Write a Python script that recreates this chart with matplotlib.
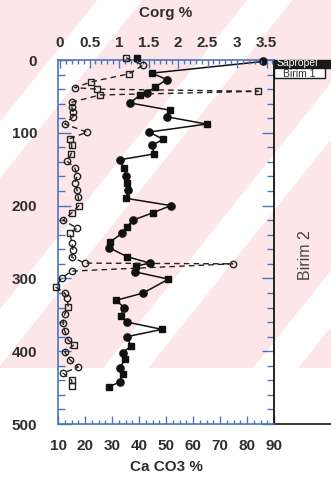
import numpy as np
import matplotlib
matplotlib.use("Agg")
import matplotlib.pyplot as plt
from matplotlib.patches import Polygon, Rectangle
from matplotlib.ticker import MultipleLocator

plt.rcParams['font.family'] = ['Liberation Sans', 'DejaVu Sans']

# ---------------- data ----------------
# CaCO3 % (filled markers, bottom axis) vs depth
caco3_depth = [2, 18, 27, 37, 45, 48, 59, 69, 78, 88, 99, 109, 117, 129, 137, 149, 159,
               169, 179, 190, 200, 210, 220, 229, 238, 250, 258, 270, 279, 283, 291, 301,
               320, 330, 340, 351, 360, 370, 380, 393, 402, 411, 423, 431, 442, 449]
caco3_val = [85.9, 44.8, 50.3, 46.0, 43.0, 40.4, 36.7, 51.5, 50.3, 65.0, 43.7, 49.0, 44.8,
             45.6, 33.0, 34.4, 35.2, 35.6, 35.9, 35.2, 51.8, 45.0, 37.8, 35.6, 33.7, 29.3,
             29.0, 35.5, 44.0, 39.0, 38.5, 50.9, 41.6, 31.6, 34.4, 33.3, 35.5, 48.5, 35.6,
             37.0, 34.0, 34.8, 32.9, 34.0, 32.9, 29.0]
caco3_top_depth = [-3]
caco3_top_val = [39.3]

# Corg % (open markers, top axis)
corg_ci_depth = [7, 38, 58, 65, 71, 78, 88, 99, 139, 148, 159, 169, 179, 188, 220, 231, 251,
                 261, 271, 279, 280, 290, 299, 320, 327, 349, 361, 372, 385, 401, 412, 422, 430]
corg_ci_val = [1.41, 0.25, 0.20, 0.20, 0.22, 0.22, 0.08, 0.46, 0.12, 0.25, 0.29, 0.25, 0.29,
               0.31, 0.05, 0.29, 0.20, 0.22, 0.20, 0.42, 2.93, 0.20, 0.03, 0.08, 0.12, 0.08,
               0.05, 0.08, 0.14, 0.08, 0.17, 0.31, 0.05]
corg_sq_depth = [-3, 19, 30, 40, 43, 48, 108, 117, 129, 200, 210, 238, 312, 339, 391, 440, 448]
corg_sq_val = [1.12, 1.17, 0.53, 0.63, 3.36, 0.68, 0.17, 0.20, 0.19, 0.32, 0.20, 0.17, -0.07,
               0.14, 0.24, 0.20, 0.20]

depth_ticks = [0, 100, 200, 300, 400, 500]
caco3_ticks = [10, 20, 30, 40, 50, 60, 70, 80, 90]
corg_ticks = [0, 0.5, 1, 1.5, 2, 2.5, 3, 3.5]
corg_labels = ['0', '0.5', '1', '1.5', '2', '2.5', '3', '3.5']

units = [("Sapropel", 0, 11), ("Birim 1", 11, 25), ("Birim 2", 25, 500)]

# ---------------- figure ----------------
W, H = 331, 487
fig = plt.figure(figsize=(W / 100, H / 100), dpi=100)

def fx(px):
    return px / W

def fy(py):
    return 1 - py / H

# watermark stripes
pink = '#fce6ea'
fig.patches.append(Rectangle((0, fy(368)), 1, 368 / H, transform=fig.transFigure,
                             facecolor=pink, edgecolor='none', zorder=-10))
slope = 0.8
period = 150
bw = 45
for k in range(-2, 7):
    c = 120 + period * k
    u1, u2 = c - bw / 2, c + bw / 2
    pts = [(u1, 0), (u2, 0), (u2 - slope * 368, 368), (u1 - slope * 368, 368)]
    fig.patches.append(Polygon([(fx(x), fy(y)) for x, y in pts], closed=True,
                               transform=fig.transFigure, facecolor='white',
                               edgecolor='none', zorder=-9))

ax = fig.add_axes([fx(58), fy(424), fx(274) - fx(58), fy(60) - fy(424)])
ax.set_facecolor('none')
ax.set_xlim(10, 90)
ax.set_ylim(500, 0)

blue = '#4f73b8'
txtc = '#2e2e2e'
for s in ['left', 'top', 'bottom']:
    ax.spines[s].set_color(blue)
    ax.spines[s].set_linewidth(1.2)
ax.spines['right'].set_color('#111111')
ax.spines['right'].set_linewidth(1.3)

fs = 11
ax.set_xticks(caco3_ticks)
ax.xaxis.set_minor_locator(MultipleLocator(2.5))
ax.set_yticks(depth_ticks)
ax.yaxis.set_minor_locator(MultipleLocator(20))
ax.tick_params(axis='x', which='both', direction='in', colors=blue, labelcolor=txtc,
               labelsize=fs, pad=11)
ax.tick_params(axis='x', which='major', length=6, width=1)
ax.tick_params(axis='x', which='minor', length=3, width=1)
ax.tick_params(axis='y', which='both', direction='in', colors=blue, labelcolor=txtc,
               labelsize=fs, pad=15, left=True, right=True)
ax.tick_params(axis='y', which='major', length=9, width=1)
ax.tick_params(axis='y', which='minor', length=5, width=1)
for lab in ax.get_xticklabels() + ax.get_yticklabels():
    lab.set_fontweight('bold')
ax.set_xlabel('Ca CO3 %', fontsize=fs, fontweight='bold', color=txtc, labelpad=5)

# filled CaCO3 series
ax.plot(caco3_val, caco3_depth, '-', color='#111111', lw=1.1, zorder=3, clip_on=False)
cv = np.array(caco3_val); cd = np.array(caco3_depth)
ax.plot(cv[0::2], cd[0::2], 'o', color='#111111', ms=5.2, zorder=4, clip_on=False)
ax.plot(cv[1::2], cd[1::2], 's', color='#111111', ms=4.6, zorder=4, clip_on=False)
ax.plot(caco3_top_val, caco3_top_depth, 's', color='#111111', ms=4.6, zorder=4, clip_on=False)

# Corg top axis
ax2 = ax.twiny()
ax2.set_xlim(-0.034, 3.627)
ax2.set_ylim(500, 0)
for s in ax2.spines.values():
    s.set_visible(False)
ax2.set_xticks(corg_ticks)
ax2.xaxis.set_minor_locator(MultipleLocator(0.1))
ax2.tick_params(axis='x', which='both', direction='in', colors=blue, labelcolor=txtc,
                labelsize=fs, pad=7)
ax2.tick_params(axis='x', which='major', length=6, width=1)
ax2.tick_params(axis='x', which='minor', length=3, width=1)
ax2.set_xticklabels(corg_labels)
for lab in ax2.get_xticklabels():
    lab.set_fontweight('bold')
ax2.set_xlabel('Corg %', fontsize=fs, fontweight='bold', color=txtc, labelpad=14)

all_d = np.concatenate([corg_ci_depth, corg_sq_depth])
all_v = np.concatenate([corg_ci_val, corg_sq_val])
order = np.argsort(all_d, kind='stable')
ax2.plot(all_v[order], all_d[order], '--', color='#222222', lw=1.0, dashes=(4, 3),
         zorder=2, clip_on=False)
ax2.plot(corg_ci_val, corg_ci_depth, 'o', mfc='none', mec='#222222', mew=1.0, ms=4.6,
         zorder=3, clip_on=False)
ax2.plot(corg_sq_val, corg_sq_depth, 's', mfc='none', mec='#222222', mew=1.0, ms=4.2,
         zorder=3, clip_on=False)

# right-side unit column
tr = ax.get_yaxis_transform()
for name, d0, d1 in units:
    if name == 'Sapropel':
        ax.add_patch(Rectangle((1.0, d0), 0.4, d1 - d0, transform=tr, facecolor='#1a1a1a',
                               edgecolor='#1a1a1a', clip_on=False, zorder=5))
        ax.text(1.01, 4.5, name, transform=tr, color='white', fontsize=7.5,
                va='center', ha='left', clip_on=False, zorder=6)
    elif name == 'Birim 1':
        ax.add_patch(Rectangle((1.0, d0), 0.235, d1 - d0, transform=tr, facecolor='white',
                               edgecolor='#1a1a1a', lw=1.0, clip_on=False, zorder=5))
        ax.text(1.115, 19, name, transform=tr, color=txtc, fontsize=7.5,
                va='center', ha='center', clip_on=False, zorder=6)
    else:
        ax.plot([1.0, 1.4], [d1, d1], transform=tr, color='#1a1a1a', lw=1.2, clip_on=False)
        ax.text(1.145, 268, name, transform=tr, color='#444444', fontsize=11.5, rotation=90,
                va='center', ha='center', clip_on=False)

fig.savefig('out.png', dpi=100)
